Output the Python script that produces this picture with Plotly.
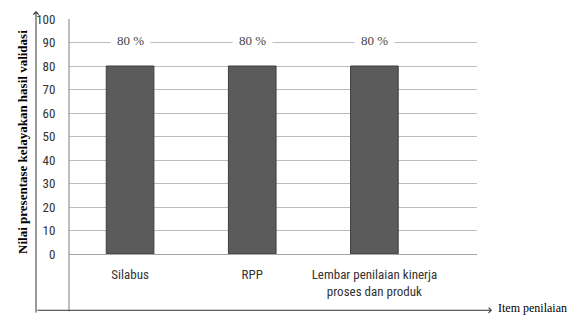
import plotly.graph_objects as go

categories = ["Silabus", "RPP", "Lembar penilaian kinerja<br>proses dan produk"]
values = [80, 80, 80]
y_ticks = [0, 10, 20, 30, 40, 50, 60, 70, 80, 90, 100]
y_title = "Nilai presentase kelayakan hasil validasi"
x_title = "Item penilaian"

W, H = 573, 317
ML, MR, MT, MB = 69, 96, 16, 63
pw, ph = W - ML - MR, H - MT - MB

def px(x):
    return (x - ML) / pw

def py(y):
    return (H - MB - y) / ph

xs = list(range(len(categories)))
fig = go.Figure()
fig.add_trace(go.Bar(
    x=xs, y=values, width=0.39,
    marker=dict(color="#5b5b5b", line=dict(color="#3f3f3f", width=1)),
    hoverinfo="skip",
))

serif = "Liberation Serif, Times New Roman, serif"
narrow = "Liberation Sans Narrow, Arial Narrow, Roboto Condensed, Roboto, sans-serif"

# data labels
for i, v in enumerate(values):
    fig.add_annotation(
        x=i, y=91, xref="x", yref="y", text=f"{v} %", showarrow=False,
        font=dict(family=serif, size=13, color="#444444"),
        bgcolor="white", borderpad=6,
    )

# outer axes (arrows)
ax_x = px(36)
ax_y = py(311)
fig.add_annotation(x=ax_x, y=py(8), xref="paper", yref="paper",
                   ax=0, ay=303, showarrow=True, arrowhead=4, arrowsize=1,
                   arrowwidth=1, arrowcolor="#333333", text="")
fig.add_annotation(x=px(492), y=ax_y, xref="paper", yref="paper",
                   ax=-(492 - 36), ay=0, showarrow=True, arrowhead=4, arrowsize=1,
                   arrowwidth=1, arrowcolor="#333333", text="")
# inner left frame line
fig.add_shape(type="line", xref="paper", yref="paper",
              x0=0, x1=0, y0=1, y1=py(312),
              line=dict(color="#7f7f7f", width=1))

# titles
fig.add_annotation(x=px(13), y=py(141), xref="paper", yref="paper",
                   text=f"<b>{y_title}</b>", textangle=-90, showarrow=False,
                   font=dict(family=serif, size=13, color="black"))
fig.add_annotation(x=px(496), y=py(318), xref="paper", yref="paper",
                   text=x_title, showarrow=False, xanchor="left", yanchor="bottom",
                   font=dict(family=serif, size=12, color="black"))

fig.update_layout(
    width=W, height=H,
    margin=dict(l=ML, r=MR, t=MT, b=MB),
    plot_bgcolor="white", paper_bgcolor="white",
    showlegend=False,
)
fig.update_xaxes(
    range=[-0.5, 2.84], tickvals=xs, ticktext=categories,
    showgrid=False, zeroline=False, showline=True, linecolor="#a6a6a6", linewidth=1,
    ticks="outside", ticklen=8, tickcolor="rgba(0,0,0,0)",
    tickfont=dict(family=narrow, size=13, color="#333333"),
)
fig.update_yaxes(
    range=[0, 100], tickvals=y_ticks, showgrid=True, gridcolor="#bcbcbc", gridwidth=1,
    zeroline=False, showline=False,
    ticks="outside", ticklen=10, tickcolor="rgba(0,0,0,0)",
    tickfont=dict(family=narrow, size=13, color="#333333"),
)

fig.write_html(
    "out.html",
    config={"displayModeBar": False},
    post_script="document.body.style.margin='0';document.body.style.overflow='hidden';",
)
